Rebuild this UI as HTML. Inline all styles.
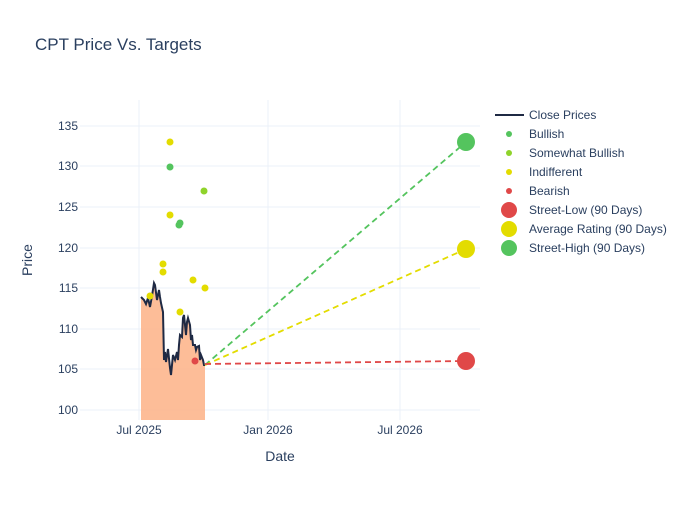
<!DOCTYPE html>
<html><head><style>body{margin:0;background:#fff;font-family:"Liberation Sans",sans-serif}</style></head><body>
<svg width="700" height="500" xmlns="http://www.w3.org/2000/svg" font-family="Liberation Sans, sans-serif">
<rect width="700" height="500" fill="#fff"/>
<text x="35" y="50" font-size="17" fill="#2a3f5f">CPT Price Vs. Targets</text>
<g stroke="#ebf0f8" stroke-width="1">
<line x1="139" y1="100" x2="139" y2="420"/><line x1="268" y1="100" x2="268" y2="420"/><line x1="400" y1="100" x2="400" y2="420"/>
<line x1="80" y1="410" x2="480" y2="410"/><line x1="80" y1="369" x2="480" y2="369"/><line x1="80" y1="329" x2="480" y2="329"/><line x1="80" y1="288" x2="480" y2="288"/><line x1="80" y1="248" x2="480" y2="248"/><line x1="80" y1="207" x2="480" y2="207"/><line x1="80" y1="166" x2="480" y2="166"/><line x1="80" y1="126" x2="480" y2="126"/>
</g>
<g font-size="12" fill="#2a3f5f" text-anchor="end">
<text x="78" y="414">100</text><text x="78" y="373">105</text><text x="78" y="333">110</text><text x="78" y="292">115</text><text x="78" y="252">120</text><text x="78" y="211">125</text><text x="78" y="170">130</text><text x="78" y="130">135</text>
</g>
<g font-size="12" fill="#2a3f5f" text-anchor="middle">
<text x="139" y="434">Jul 2025</text><text x="268" y="434">Jan 2026</text><text x="400" y="434">Jul 2026</text>
</g>
<text x="280" y="461" font-size="14" fill="#2a3f5f" text-anchor="middle">Date</text>
<text x="32" y="260" font-size="14" fill="#2a3f5f" text-anchor="middle" transform="rotate(-90 32 260)">Price</text>
<polygon fill="#fdb68d" fill-opacity="0.9" points="141,420 141,297 144,300 146,304 148,298 150,307 152,296 154,283 155,285 157,300 159,290 160,297 161,303 163,312 164,360 165,352 166,362 168,349 170,368 171,375 173,355 175,360 177,352 178,360 179,345 180,335 182,337 183,318 184,315 186,335 187,322 188,318 190,325 191,340 192,335 193,345 195,345 196,350 197,347 199,346 200,360 201,355 203,360 204,365 205,365 205,420"/>
<polyline fill="none" stroke="#1f2a44" stroke-width="2" points="141,297 144,300 146,304 148,298 150,307 152,296 154,283 155,285 157,300 159,290 160,297 161,303 163,312 164,360 165,352 166,362 168,349 170,368 171,375 173,355 175,360 177,352 178,360 179,345 180,335 182,337 183,318 184,315 186,335 187,322 188,318 190,325 191,340 192,335 193,345 195,345 196,350 197,347 199,346 200,360 201,355 203,360 204,365 205,365"/>
<g stroke-width="1.8" stroke-dasharray="6,4" fill="none">
<line x1="205" y1="365" x2="466" y2="142" stroke="#54c45e"/>
<line x1="205" y1="365" x2="466" y2="249" stroke="#e3dc00"/>
<line x1="205" y1="364" x2="466" y2="361" stroke="#e04848"/>
</g>
<g>
<circle cx="170" cy="142" r="3.5" fill="#e3dc00"/><circle cx="170" cy="167" r="3.5" fill="#54c45e"/><circle cx="204" cy="191" r="3.5" fill="#8fd32b"/>
<circle cx="170" cy="215" r="3.5" fill="#e3dc00"/><circle cx="179" cy="225" r="3.5" fill="#54c45e"/><circle cx="180" cy="223" r="3.5" fill="#54c45e"/>
<circle cx="163" cy="264" r="3.5" fill="#e3dc00"/><circle cx="163" cy="272" r="3.5" fill="#e3dc00"/><circle cx="193" cy="280" r="3.5" fill="#e3dc00"/><circle cx="205" cy="288" r="3.5" fill="#e3dc00"/>
<circle cx="180" cy="312" r="3.5" fill="#e3dc00"/><circle cx="150" cy="296" r="3.5" fill="#e3dc00"/><circle cx="195" cy="361" r="3.5" fill="#e04848"/>
<circle cx="466" cy="142" r="9" fill="#54c45e"/><circle cx="466" cy="249" r="9" fill="#e3dc00"/><circle cx="466" cy="361" r="9" fill="#e04848"/>
</g>
<g font-size="12" fill="#2a3f5f">
<line x1="495" y1="115" x2="524" y2="115" stroke="#1f2a44" stroke-width="2"/><text x="529" y="119">Close Prices</text>
<circle cx="509" cy="134" r="3" fill="#54c45e"/><text x="529" y="138">Bullish</text>
<circle cx="509" cy="153" r="3" fill="#8fd32b"/><text x="529" y="157">Somewhat Bullish</text>
<circle cx="509" cy="172" r="3" fill="#e3dc00"/><text x="529" y="176">Indifferent</text>
<circle cx="509" cy="191" r="3" fill="#e04848"/><text x="529" y="195">Bearish</text>
<circle cx="509" cy="210" r="8" fill="#e04848"/><text x="529" y="214">Street-Low (90 Days)</text>
<circle cx="509" cy="229" r="8" fill="#e3dc00"/><text x="529" y="233">Average Rating (90 Days)</text>
<circle cx="509" cy="248" r="8" fill="#54c45e"/><text x="529" y="252">Street-High (90 Days)</text>
</g>
</svg>
</body></html>
